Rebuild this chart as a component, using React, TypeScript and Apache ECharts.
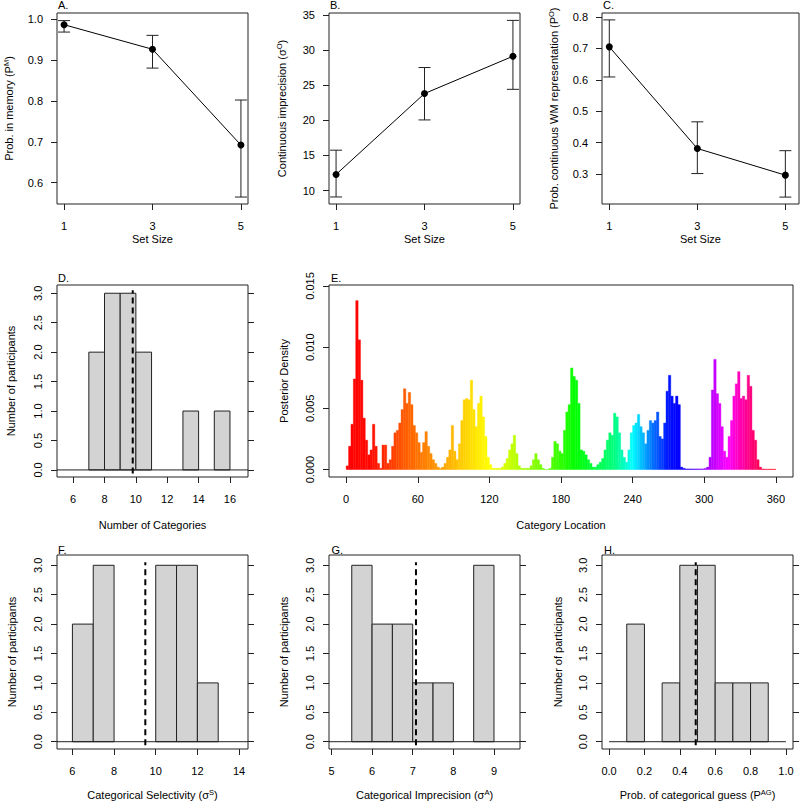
import React, { useEffect, useRef } from 'react';
import * as echarts from 'echarts';

// ---------- DATA ----------
const setSizes = [1, 3, 5];
const pMemMean = [0.986, 0.926, 0.692];
const pMemLow = [0.968, 0.88, 0.565];
const pMemHigh = [0.996, 0.96, 0.802];

const sigmaOMean = [12.3, 23.8, 29.1];
const sigmaOLow = [9.1, 20.05, 24.4];
const sigmaOHigh = [15.75, 27.5, 34.2];

const pOMean = [0.705, 0.381, 0.296];
const pOLow = [0.609, 0.301, 0.226];
const pOHigh = [0.791, 0.466, 0.374];

// histograms: bin starts, bin width, counts, mean line
const dBinStarts = [7, 8, 9, 10, 13, 15];
const dBinWidth = 1;
const dCounts = [2, 3, 3, 2, 1, 1];
const dMeanLine = 9.8;

const fBinStarts = [6, 7, 10, 11, 12];
const fBinWidth = 1;
const fCounts = [2, 3, 3, 3, 1];
const fMeanLine = 9.5;

const gBinStarts = [5.5, 6, 6.5, 7, 7.5, 8.5];
const gBinWidth = 0.5;
const gCounts = [3, 2, 2, 1, 1, 3];
const gMeanLine = 7.08;

const hBinStarts = [0.1, 0.3, 0.4, 0.5, 0.6, 0.7, 0.8];
const hBinWidth = 0.1;
const hCounts = [2, 1, 3, 3, 1, 1, 1];
const hMeanLine = 0.49;

// posterior density of category locations, 2-degree bins starting at 0
const eBinWidth = 2;
const eDensity = [
  0.0003, 0.0019, 0.0037, 0.0074, 0.0138, 0.0106, 0.0073, 0.0042, 0.0024, 0.0012, // 0-18
  0.0016, 0.0037, 0.0019, 0.0005, 0.0001, 0.002, 0.002, 0.0005, 0.0008, 0.0019, // 20-38
  0.003, 0.0032, 0.0038, 0.0049, 0.0066, 0.0054, 0.0063, 0.0053, 0.0036, 0.003, // 40-58
  0.0022, 0.0014, 0.0022, 0.0031, 0.0019, 0.0013, 0.0008, 0.0005, 0.0002, 0.0001, // 60-78
  0.0002, 0.0005, 0.001, 0.0016, 0.0036, 0.0015, 0.0008, 0.0021, 0.004, 0.0057, // 80-98
  0.0058, 0.0057, 0.0073, 0.0049, 0.0035, 0.0054, 0.006, 0.0043, 0.0027, 0.001, // 100-118
  0.0004, 0.0001, 0.0001, 0.0001, 0.0001, 0.0002, 0.0005, 0.0009, 0.0016, 0.0021, // 120-138
  0.0028, 0.0013, 0.0003, 0.0001, 0.0001, 0.0001, 0.0001, 0.0003, 0.0008, 0.0013, // 140-158
  0.0008, 0.0004, 0.0001, 0.0, 0.0, 0.0001, 0.001, 0.0023, 0.0021, 0.0015, // 160-178
  0.0013, 0.0032, 0.0047, 0.0053, 0.0083, 0.0076, 0.0073, 0.0054, 0.0016, 0.0015, // 180-198
  0.0012, 0.0008, 0.0005, 0.0002, 0.0002, 0.0004, 0.0006, 0.0009, 0.0016, 0.0024, // 200-218
  0.003, 0.0028, 0.0046, 0.0043, 0.003, 0.0016, 0.001, 0.0006, 0.0016, 0.003, // 220-238
  0.0036, 0.0038, 0.0045, 0.0035, 0.003, 0.0021, 0.0032, 0.004, 0.0038, 0.004, // 240-258
  0.0047, 0.0027, 0.0025, 0.0038, 0.0064, 0.0077, 0.006, 0.0054, 0.006, 0.0053, // 260-278
  0.0002, 0.0001, 0.00005, 0.00005, 0.00005, 0.00005, 0.00005, 0.00005, 0.00005, 0.00005, // 280-298
  0.0001, 0.0002, 0.001, 0.0065, 0.009, 0.0062, 0.0054, 0.0035, 0.0015, 0.001, // 300-318
  0.0027, 0.004, 0.006, 0.007, 0.008, 0.0058, 0.006, 0.0057, 0.0077, 0.0068, // 320-338
  0.0032, 0.0024, 0.0008, 0.0002, 0.00005, 0.00003, 0.00003, 0.00003, 0.00003, 0.00003, // 340-358
];

// tick labels
const setSizeTicks = [1, 3, 5];
const aTicks = [0.6, 0.7, 0.8, 0.9, 1.0];
const bTicks = [10, 15, 20, 25, 30, 35];
const cTicks = [0.3, 0.4, 0.5, 0.6, 0.7, 0.8];
const countTicks = [0, 0.5, 1, 1.5, 2, 2.5, 3];
const dXTicks = [6, 8, 10, 12, 14, 16];
const eXTicks = [0, 60, 120, 180, 240, 300, 360];
const eYTicks = [0, 0.005, 0.01, 0.015];
const fXTicks = [6, 8, 10, 12, 14];
const gXTicks = [5, 6, 7, 8, 9];
const hXTicks = [0, 0.2, 0.4, 0.6, 0.8, 1.0];

// ---------- STYLE HELPERS ----------
const FONT = 'Liberation Sans, Arial, Helvetica, sans-serif';
const INK = '#222';

// hue mapping of the colour wheel (degrees -> hsv hue)
const hueStops: [number, number][] = [
  [0, 0], [20, 2], [50, 22], [70, 32], [95, 47], [120, 60], [140, 75], [160, 90],
  [190, 118], [225, 150], [240, 180], [255, 210], [270, 235], [280, 242], [305, 282],
  [320, 300], [335, 325], [350, 345], [360, 355],
];
function hueAt(deg: number) {
  for (let i = 0; i < hueStops.length - 1; i++) {
    const [a, ha] = hueStops[i];
    const [b, hb] = hueStops[i + 1];
    if (deg >= a && deg <= b) return ha + ((deg - a) / (b - a)) * (hb - ha);
  }
  return 355;
}
function hsvColor(h: number) {
  const hp = (h % 360) / 60;
  const x = 1 - Math.abs((hp % 2) - 1);
  let r = 0, g = 0, b = 0;
  if (hp < 1) { r = 1; g = x; }
  else if (hp < 2) { r = x; g = 1; }
  else if (hp < 3) { g = 1; b = x; }
  else if (hp < 4) { g = x; b = 1; }
  else if (hp < 5) { r = x; b = 1; }
  else { r = 1; b = x; }
  const to = (v: number) => Math.round(v * 255);
  return `rgb(${to(r)},${to(g)},${to(b)})`;
}

const labelStyle = { color: '#000', fontSize: 11, fontFamily: FONT };
const nameStyle = {
  color: '#000',
  fontSize: 11,
  fontFamily: FONT,
  rich: {
    sup: { fontSize: 7.5, fontFamily: FONT, color: '#000', verticalAlign: 'top' as const, padding: [0, 0, 5, 0] },
  },
};

function xAx(gridIndex: number, min: number, max: number, ticks: number[], fmt: (v: number) => string, name: string, nameGap: number) {
  return {
    type: 'value', gridIndex, min, max,
    axisLine: { show: false, onZero: false },
    splitLine: { show: false },
    axisTick: { show: true, length: 6, customValues: ticks, lineStyle: { color: INK, width: 1 } },
    axisLabel: { ...labelStyle, customValues: ticks, formatter: fmt, margin: 16 },
    name, nameLocation: 'middle', nameGap, nameTextStyle: nameStyle,
  };
}
function yAx(gridIndex: number, min: number, max: number, ticks: number[], fmt: (v: number) => string, rotate: boolean, name: string, nameGap: number) {
  return {
    type: 'value', gridIndex, min, max, position: 'left',
    axisLine: { show: false, onZero: false },
    splitLine: { show: false },
    axisTick: { show: true, length: 6, customValues: ticks, lineStyle: { color: INK, width: 1 } },
    axisLabel: { ...labelStyle, customValues: ticks, formatter: fmt, margin: 14, rotate: rotate ? 90 : 0 },
    name, nameLocation: 'middle', nameGap, nameTextStyle: nameStyle,
  };
}
function yRight(gridIndex: number, min: number, max: number, ticks: number[]) {
  return {
    type: 'value', gridIndex, min, max, position: 'right',
    axisLine: { show: false, onZero: false },
    splitLine: { show: false },
    axisTick: { show: true, length: 6, customValues: ticks, lineStyle: { color: INK, width: 1 } },
    axisLabel: { show: false },
  };
}

const f1 = (v: number) => Number(v).toFixed(1);
const f0 = (v: number) => String(Math.round(Number(v)));
const f3 = (v: number) => Number(v).toFixed(3);

function meanSeries(idx: number, means: number[], lows: number[], highs: number[]) {
  return [
    {
      type: 'line', xAxisIndex: idx, yAxisIndex: idx,
      data: setSizes.map((s, i) => [s, means[i]]),
      symbol: 'circle', symbolSize: 7,
      itemStyle: { color: '#000' },
      lineStyle: { color: '#000', width: 1 },
      z: 3,
    },
    {
      type: 'custom', xAxisIndex: idx, yAxisIndex: idx,
      data: setSizes.map((s, i) => [s, lows[i], highs[i]]),
      renderItem: (params: any, api: any) => {
        const x = api.value(0);
        const lo = api.coord([x, api.value(1)]);
        const hi = api.coord([x, api.value(2)]);
        const w = 6;
        const st = { stroke: INK, lineWidth: 1 };
        return {
          type: 'group',
          children: [
            { type: 'line', shape: { x1: lo[0], y1: lo[1], x2: hi[0], y2: hi[1] }, style: st },
            { type: 'line', shape: { x1: lo[0] - w, y1: lo[1], x2: lo[0] + w, y2: lo[1] }, style: st },
            { type: 'line', shape: { x1: hi[0] - w, y1: hi[1], x2: hi[0] + w, y2: hi[1] }, style: st },
          ],
        };
      },
      z: 2,
    },
  ];
}

function histSeries(idx: number, starts: number[], width: number, counts: number[], meanLine: number, zeroFrom: number, zeroTo: number) {
  return [
    {
      type: 'custom', xAxisIndex: idx, yAxisIndex: idx,
      data: starts.map((s, i) => [s, s + width, counts[i]]),
      renderItem: (params: any, api: any) => {
        const p0 = api.coord([api.value(0), api.value(2)]);
        const p1 = api.coord([api.value(1), 0]);
        return {
          type: 'rect',
          shape: { x: p0[0], y: p0[1], width: p1[0] - p0[0], height: p1[1] - p0[1] },
          style: { fill: '#d3d3d3', stroke: INK, lineWidth: 1 },
        };
      },
      z: 2,
    },
    {
      type: 'line', xAxisIndex: idx, yAxisIndex: idx,
      data: [[zeroFrom, 0], [zeroTo, 0]],
      symbol: 'none', lineStyle: { color: INK, width: 1 }, z: 3,
    },
    {
      type: 'line', xAxisIndex: idx, yAxisIndex: idx,
      data: [[meanLine, -0.06], [meanLine, 3.05]],
      symbol: 'none', lineStyle: { color: '#000', width: 2, type: [6, 4] }, z: 4,
    },
  ];
}

function buildOption() {
  const grids = [
    { left: 57, top: 13, width: 191, height: 191 }, // A
    { left: 329, top: 13, width: 191, height: 191 }, // B
    { left: 602, top: 13, width: 197, height: 191 }, // C
    { left: 57, top: 285, width: 191, height: 192 }, // D
    { left: 329, top: 285, width: 464, height: 192 }, // E
    { left: 57, top: 555, width: 191, height: 194 }, // F
    { left: 329, top: 555, width: 191, height: 194 }, // G
    { left: 602, top: 555, width: 191, height: 194 }, // H
  ].map((g) => ({ ...g, show: true, borderColor: INK, borderWidth: 1, backgroundColor: 'transparent' }));

  const dRange: [number, number] = [4.97, 17.15];
  const fRange: [number, number] = [5.26, 14.43];
  const gRange: [number, number] = [4.94, 9.64];
  const hRange: [number, number] = [-0.04, 1.04];
  const cntMin = -0.124, cntMinTop = -0.12;

  const xAxis = [
    xAx(0, 0.84, 5.16, setSizeTicks, f0, 'Set Size', 29),
    xAx(1, 0.84, 5.16, setSizeTicks, f0, 'Set Size', 29),
    xAx(2, 0.834, 5.31, setSizeTicks, f0, 'Set Size', 29),
    xAx(3, dRange[0], dRange[1], dXTicks, f0, 'Number of Categories', 42),
    xAx(4, -14.4, 374.4, eXTicks, f0, 'Category Location', 42),
    xAx(5, fRange[0], fRange[1], fXTicks, f0, 'Categorical Selectivity (σ{sup|S})', 39),
    xAx(6, gRange[0], gRange[1], gXTicks, f0, 'Categorical Imprecision (σ{sup|A})', 39),
    xAx(7, hRange[0], hRange[1], hXTicks, f1, 'Prob. of categorical guess (P{sup|AG})', 39),
  ];
  const yAxis = [
    yAx(0, 0.548, 1.0146, aTicks, f1, false, 'Prob. in memory (P{sup|M})', 42),
    yAx(1, 8.1, 35.25, bTicks, f0, false, 'Continuous imprecision (σ{sup|O})', 41),
    yAx(2, 0.204, 0.813, cTicks, f1, false, 'Prob. continuous WM representation (P{sup|O})', 42),
    yAx(3, cntMinTop, 3.14, countTicks, f1, true, 'Number of participants', 41),
    yAx(4, -0.00061, 0.01508, eYTicks, f3, true, 'Posterior Density', 40),
    yAx(5, cntMin, 3.175, countTicks, f1, true, 'Number of participants', 40),
    yAx(6, cntMin, 3.175, countTicks, f1, true, 'Number of participants', 39.5),
    yAx(7, cntMin, 3.175, countTicks, f1, true, 'Number of participants', 39),
    yRight(3, cntMinTop, 3.14, countTicks),
    yRight(5, cntMin, 3.175, countTicks),
    yRight(6, cntMin, 3.175, countTicks),
    yRight(7, cntMin, 3.175, countTicks),
  ];

  const eSeries = {
    type: 'custom', xAxisIndex: 4, yAxisIndex: 4,
    data: eDensity.map((d, i) => [i * eBinWidth, (i + 1) * eBinWidth, d]),
    renderItem: (params: any, api: any) => {
      const s = api.value(0);
      const e = api.value(1);
      const p0 = api.coord([s, api.value(2)]);
      const p1 = api.coord([e, 0]);
      const col = hsvColor(hueAt((s + e) / 2));
      return {
        type: 'rect',
        shape: { x: p0[0], y: p0[1], width: p1[0] - p0[0], height: p1[1] - p0[1] },
        style: { fill: col, stroke: col, lineWidth: 0.4 },
      };
    },
  };

  const panelLabels = [
    ['A.', 58, 4.5], ['B.', 330, 4.5], ['C.', 603, 5],
    ['D.', 58, 277.5], ['E.', 331, 277.5],
    ['F.', 58, 550], ['G.', 331.5, 550], ['H.', 604, 550],
  ].map(([t, x, y]) => ({
    type: 'text', x, y,
    style: { text: t, fontSize: 11, fontFamily: FONT, fill: '#000', verticalAlign: 'middle' },
  }));

  return {
    animation: false,
    backgroundColor: '#fff',
    textStyle: { fontFamily: FONT },
    grid: grids,
    xAxis,
    yAxis,
    graphic: panelLabels,
    series: [
      ...meanSeries(0, pMemMean, pMemLow, pMemHigh),
      ...meanSeries(1, sigmaOMean, sigmaOLow, sigmaOHigh),
      ...meanSeries(2, pOMean, pOLow, pOHigh),
      ...histSeries(3, dBinStarts, dBinWidth, dCounts, dMeanLine, dRange[0], dRange[1]),
      eSeries,
      ...histSeries(5, fBinStarts, fBinWidth, fCounts, fMeanLine, fRange[0], fRange[1]),
      ...histSeries(6, gBinStarts, gBinWidth, gCounts, gMeanLine, gRange[0], gRange[1]),
      ...histSeries(7, hBinStarts, hBinWidth, hCounts, hMeanLine, 0, 1),
    ],
  };
}

export default function App() {
  const ref = useRef<HTMLDivElement>(null);
  useEffect(() => {
    if (!ref.current) return;
    const chart = echarts.init(ref.current, null, { renderer: 'svg' });
    chart.setOption(buildOption() as any);
    return () => chart.dispose();
  }, []);
  return (
    <div
      ref={ref}
      style={{ position: 'absolute', left: 0, top: 0, width: 800, height: 801, background: '#fff' }}
    />
  );
}
